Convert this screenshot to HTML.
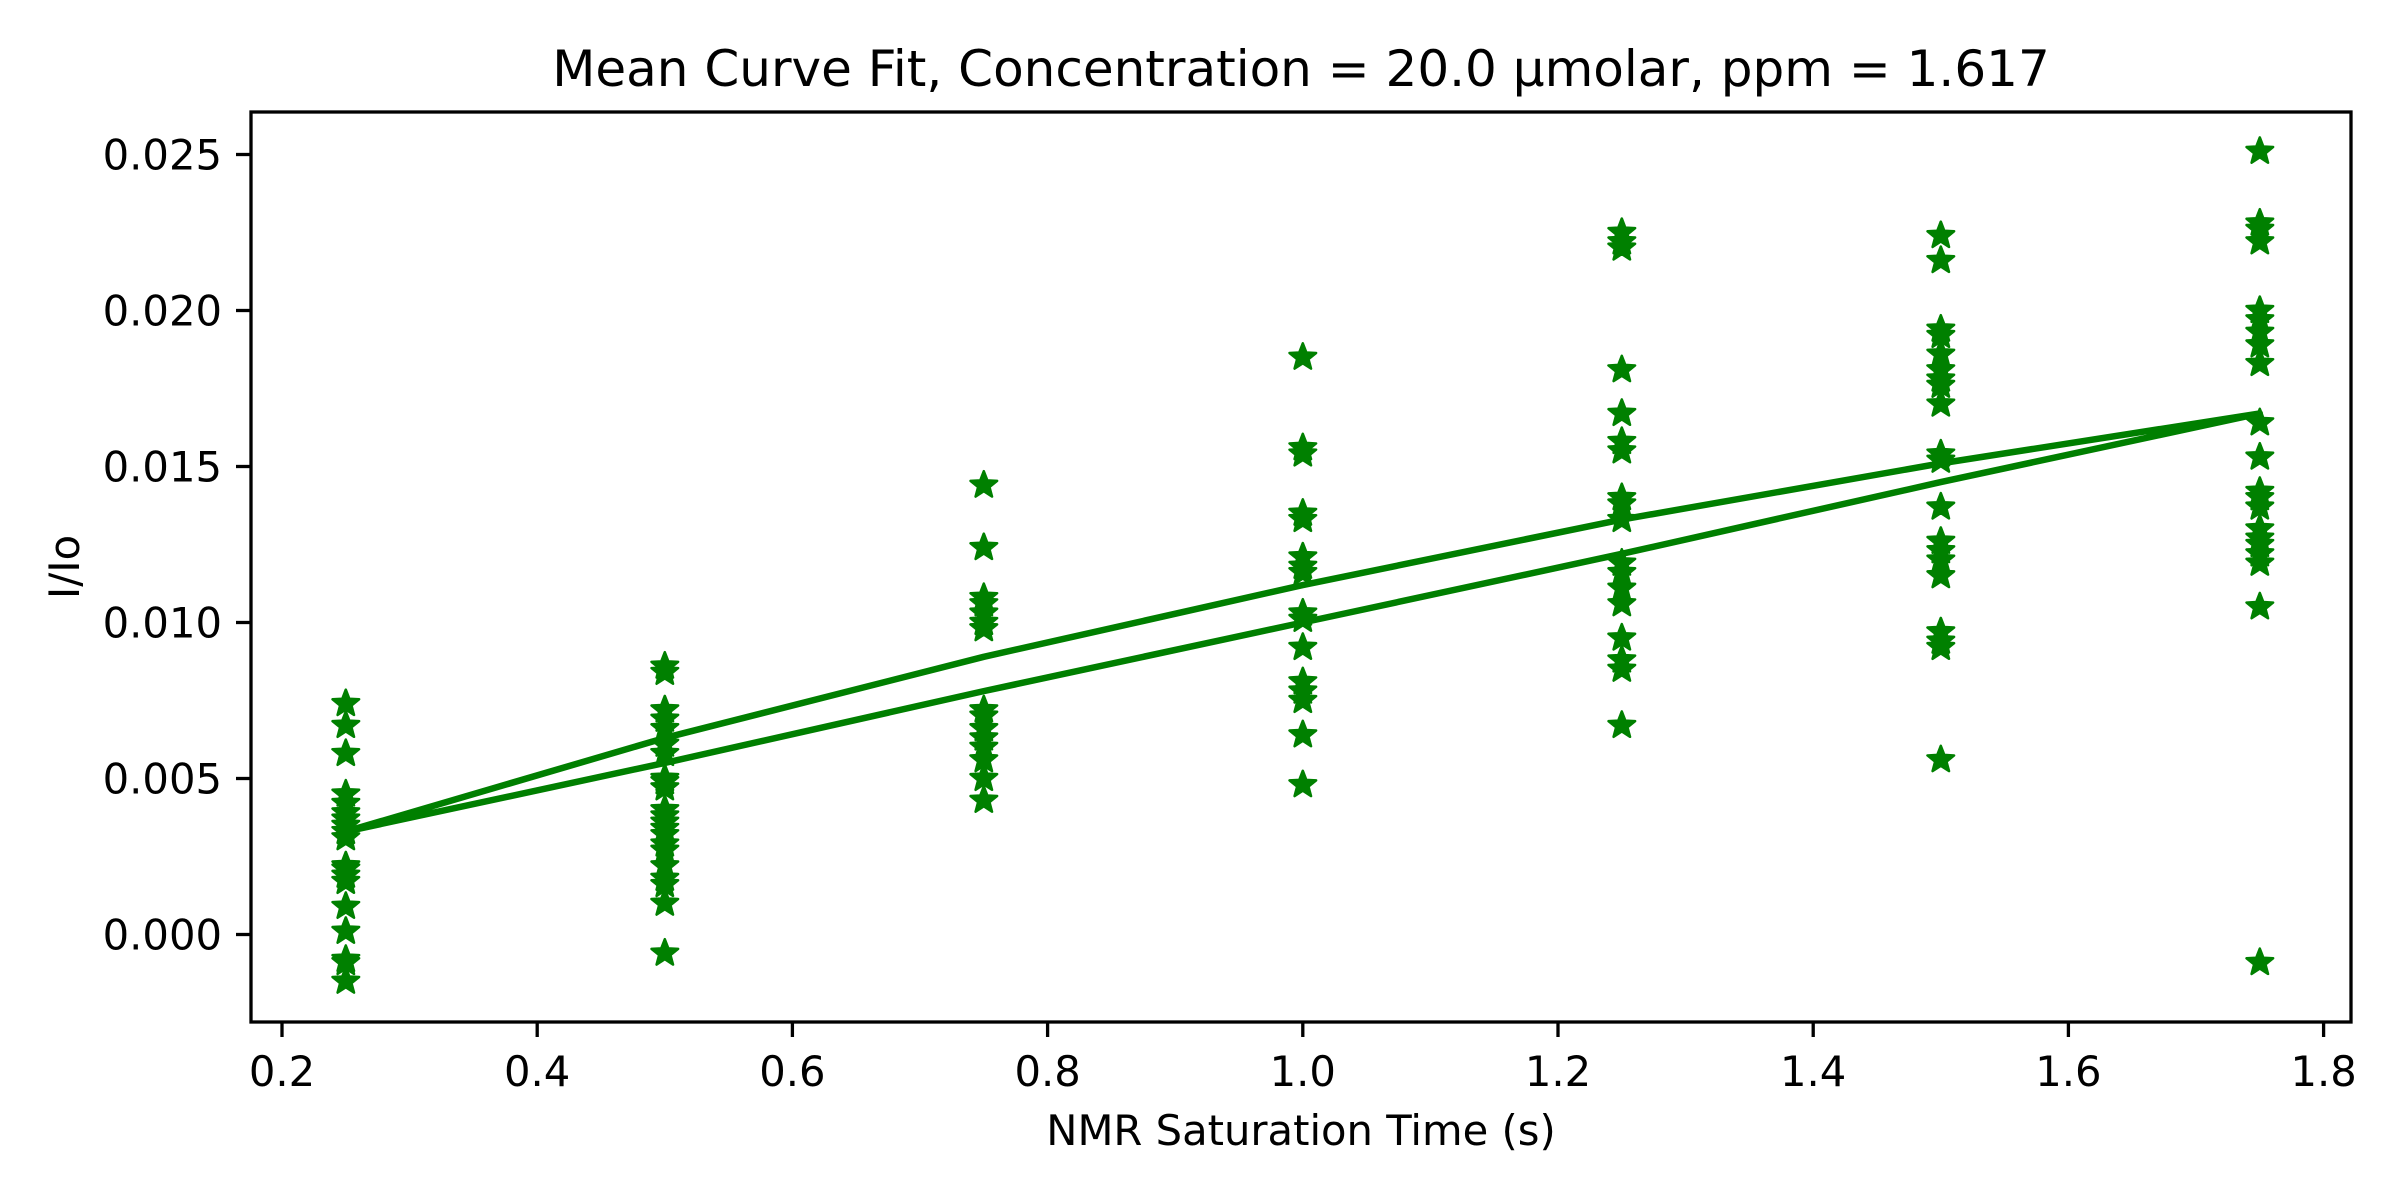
<!DOCTYPE html>
<html><head><meta charset="utf-8"><style>
html,body{margin:0;padding:0;background:#fff;}
svg{display:block;font-family:"DejaVu Sans","Liberation Sans",sans-serif;}
</style></head><body>
<svg id="chart" width="2400" height="1200" viewBox="0 0 2400 1200" xmlns="http://www.w3.org/2000/svg">
<rect width="2400" height="1200" fill="#fff"/>
<text x="1301" y="86" font-size="50" text-anchor="middle">Mean Curve Fit, Concentration = 20.0 μmolar, ppm = 1.617</text>
<g id="plot"></g>
<rect x="251" y="112" width="2100" height="910" fill="none" stroke="#000" stroke-width="3.3"/>
<text x="1301" y="1145" font-size="41.7" text-anchor="middle">NMR Saturation Time (s)</text>
<text x="0" y="0" font-size="41.7" text-anchor="middle" transform="translate(79,567) rotate(-90)">I/Io</text>
</svg>
<script>
const xTicks=[0.2,0.4,0.6,0.8,1.0,1.2,1.4,1.6,1.8];
const xTickLabels=["0.2","0.4","0.6","0.8","1.0","1.2","1.4","1.6","1.8"];
const yTicks=[0,0.005,0.010,0.015,0.020,0.025];
const yTickLabels=["0.000","0.005","0.010","0.015","0.020","0.025"];
const times=[0.25,0.5,0.75,1.0,1.25,1.5,1.75];
const pts025=[0.0074,0.0067,0.0058,0.0045,0.0042,0.0039,0.0037,0.0035,0.0033,0.0031,0.0022,0.0021,0.0019,0.0017,0.0009,0.0001,-0.0008,-0.0009,-0.0015];
const pts050=[0.0086,0.0084,0.0072,0.0069,0.0066,0.0061,0.0058,0.0050,0.0049,0.0047,0.0040,0.0038,0.0036,0.0034,0.0032,0.0029,0.0027,0.0022,0.0018,0.0016,0.0010,-0.0006];
const pts075=[0.0144,0.0124,0.0108,0.0106,0.0103,0.0100,0.0098,0.0072,0.0070,0.0066,0.0063,0.0060,0.0056,0.0050,0.0043];
const pts100=[0.0185,0.0156,0.0154,0.0135,0.0133,0.0121,0.0118,0.0116,0.0103,0.0101,0.0092,0.0081,0.0078,0.0075,0.0064,0.0048];
const pts125=[0.0225,0.0222,0.0220,0.0181,0.0167,0.0158,0.0155,0.0140,0.0138,0.0133,0.0119,0.0116,0.0111,0.0106,0.0095,0.0088,0.0085,0.0067];
const pts150=[0.0224,0.0216,0.0194,0.0192,0.0186,0.0181,0.0178,0.0176,0.0170,0.0154,0.0152,0.0137,0.0126,0.0123,0.0120,0.0115,0.0097,0.0094,0.0092,0.0056];
const pts175=[0.0251,0.0228,0.0226,0.0222,0.0200,0.0197,0.0193,0.0189,0.0183,0.0164,0.0153,0.0142,0.0140,0.0137,0.0130,0.0127,0.0125,0.0122,0.0119,0.0105,-0.0009];
const fitLower=[0.0033,0.0055,0.0078,0.0100,0.0122,0.0145,0.0167];
const fitUpper=[0.0033,0.0063,0.0089,0.0112,0.0133,0.0151,0.0167];

const NS='http://www.w3.org/2000/svg';
const X=v=>282+(v-0.2)*1276;
const Y=v=>934.5-v*31200;
const g=document.getElementById('plot');
function mk(tag,attrs){const e=document.createElementNS(NS,tag);for(const k in attrs)e.setAttribute(k,attrs[k]);g.appendChild(e);return e;}

xTicks.forEach((t,i)=>{
  const l=mk('line',{x1:X(t),x2:X(t),y1:1022,y2:1037,stroke:'#000','stroke-width':3.3});
  
  
  const tx=mk('text',{x:X(t),y:1086,'font-size':41.7,'text-anchor':'middle'});
  tx.textContent=xTickLabels[i];
  
  
});
yTicks.forEach((t,i)=>{
  const l=mk('line',{x1:236,x2:251,y1:Y(t),y2:Y(t),stroke:'#000','stroke-width':3.3});
  
  
  const tx=mk('text',{x:222,y:Y(t)+15,'font-size':41.7,'text-anchor':'end'});
  tx.textContent=yTickLabels[i];
  
  
});

let d='';
times.forEach((t,i)=>{d+=(i?'L':'M')+X(t)+','+Y(fitLower[i]);});
for(let i=times.length-1;i>=0;i--){d+='L'+X(times[i])+','+Y(fitUpper[i]);}
const fit=mk('path',{d:d,fill:'none',stroke:'#007f00','stroke-width':6.5,'stroke-linejoin':'round'});



function star(cx,cy){
  const R=14,r=6;let s='';
  for(let k=0;k<10;k++){const a=-Math.PI/2+k*Math.PI/5;const rr=k%2?r:R;s+=(k?'L':'M')+(cx+rr*Math.cos(a)).toFixed(2)+','+(cy+rr*Math.sin(a)).toFixed(2);}
  return s+'Z';
}
const cols=[pts025,pts050,pts075,pts100,pts125,pts150,pts175];
cols.forEach((arr,i)=>{
  arr.forEach(v=>{
    const p=mk('path',{d:star(X(times[i]),Y(v)),fill:'#008000',stroke:'#008000','stroke-width':2.5,'stroke-linejoin':'round'});
    
    
  });
});
</script>
</body></html>
